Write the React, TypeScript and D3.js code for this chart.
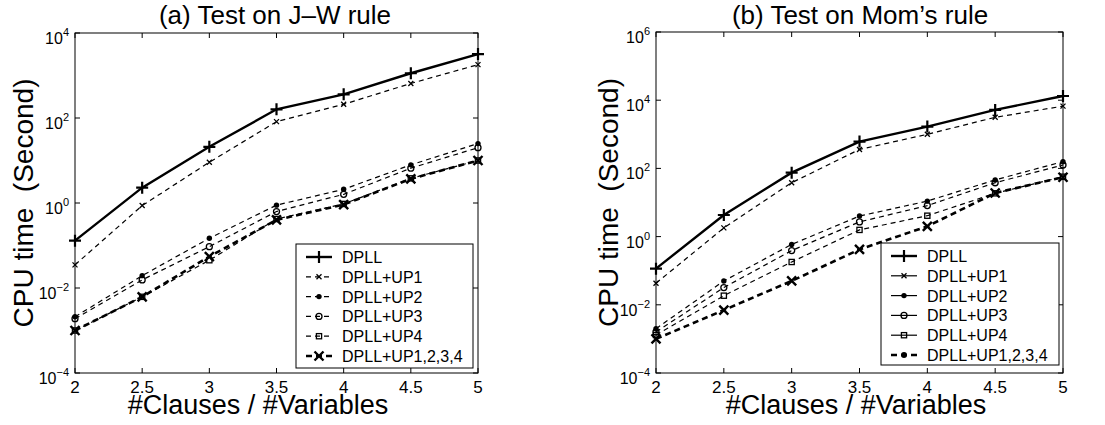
import { useRef, useEffect } from 'react'
import * as d3 from 'd3'

// x values (clause / variable ratio)
const ratios = [2, 2.5, 3, 3.5, 4, 4.5, 5]

// (a) J-W rule, CPU seconds
const jwDpll = [0.13, 2.3, 21, 160, 360, 1130, 3200]
const jwUp1 = [0.035, 0.87, 9.1, 82, 210, 650, 1800]
const jwUp2 = [0.0021, 0.0195, 0.148, 0.89, 2.1, 7.9, 25]
const jwUp3 = [0.0019, 0.0155, 0.094, 0.63, 1.6, 6.6, 20]
const jwUp4 = [0.001, 0.0062, 0.045, 0.42, 0.95, 3.8, 10]
const jwUpAll = [0.001, 0.0062, 0.055, 0.4, 0.92, 3.7, 10]

// (b) Mom's rule, CPU seconds
const momDpll = [0.115, 4.3, 75, 610, 1680, 5200, 13300]
const momUp1 = [0.043, 1.8, 38, 360, 1000, 3150, 6700]
const momUp2 = [0.002, 0.05, 0.59, 4, 11, 46, 158]
const momUp3 = [0.0016, 0.032, 0.39, 2.7, 8.1, 38, 126]
const momUp4 = [0.0013, 0.0185, 0.18, 1.57, 4.1, 18.6, 57]
const momUpAll = [0.001, 0.007, 0.05, 0.42, 2.0, 19, 55]

const seriesNames = ['DPLL', 'DPLL+UP1', 'DPLL+UP2', 'DPLL+UP3', 'DPLL+UP4', 'DPLL+UP1,2,3,4']
const xTicks = [2, 2.5, 3, 3.5, 4, 4.5, 5]
const jwExps = [-4, -2, 0, 2, 4]
const momExps = [-4, -2, 0, 2, 4, 6]

const FONT = 'Liberation Sans, Arial, Helvetica, sans-serif'

// line styles per series: [width, dash]
const styles = [
  { w: 2.4, dash: null, marker: 'plus' },
  { w: 1.2, dash: '5,4', marker: 'xs' },
  { w: 1.2, dash: '5,4', marker: 'dot' },
  { w: 1.2, dash: '5,4', marker: 'circle' },
  { w: 1.2, dash: '5,4', marker: 'square' },
  { w: 2.6, dash: '6,4', marker: 'xl' },
]

function drawMarker(g, kind, x, y) {
  if (kind === 'plus') {
    g.append('path').attr('d', `M${x - 6},${y}H${x + 6}M${x},${y - 6}V${y + 6}`)
      .attr('stroke', '#000').attr('stroke-width', 2.2)
  } else if (kind === 'xs') {
    g.append('path').attr('d', `M${x - 2.5},${y - 2.5}L${x + 2.5},${y + 2.5}M${x - 2.5},${y + 2.5}L${x + 2.5},${y - 2.5}`)
      .attr('stroke', '#000').attr('stroke-width', 1.3)
  } else if (kind === 'xl') {
    g.append('path').attr('d', `M${x - 4.5},${y - 4.5}L${x + 4.5},${y + 4.5}M${x - 4.5},${y + 4.5}L${x + 4.5},${y - 4.5}`)
      .attr('stroke', '#000').attr('stroke-width', 2.4)
  } else if (kind === 'dot') {
    g.append('circle').attr('cx', x).attr('cy', y).attr('r', 2.7).attr('fill', '#000')
  } else if (kind === 'bigdot') {
    g.append('circle').attr('cx', x).attr('cy', y).attr('r', 3).attr('fill', '#000')
  } else if (kind === 'circle') {
    g.append('circle').attr('cx', x).attr('cy', y).attr('r', 3).attr('fill', 'none')
      .attr('stroke', '#000').attr('stroke-width', 1.3)
  } else if (kind === 'square') {
    g.append('rect').attr('x', x - 2.6).attr('y', y - 2.6).attr('width', 5.2).attr('height', 5.2)
      .attr('fill', 'none').attr('stroke', '#000').attr('stroke-width', 1.3)
  }
}

const panels = [
  {
    title: '(a) Test on J\u2013W rule', titleX: 275,
    x0: 75, x1: 478, y0: 33, y1: 373,
    exps: jwExps, yLabelX: 33, xLabelX: 258,
    data: [jwDpll, jwUp1, jwUp2, jwUp3, jwUp4, jwUpAll],
    legend: { x0: 296, y0: 244, x1: 473, y1: 368 },
    legendSolid: false,
  },
  {
    title: '(b) Test on Mom\u2019s rule', titleX: 860,
    x0: 656, x1: 1063, y0: 32, y1: 373,
    exps: momExps, yLabelX: 618, xLabelX: 856,
    data: [momDpll, momUp1, momUp2, momUp3, momUp4, momUpAll],
    legend: { x0: 881, y0: 243, x1: 1059, y1: 365 },
    legendSolid: true,
  },
]

export default function App() {
  const svgRef = useRef(null)

  useEffect(() => {
    const svg = d3.select(svgRef.current)
    svg.selectAll('*').remove()

    panels.forEach((p) => {
      const g = svg.append('g')
      const x = d3.scaleLinear().domain([2, 5]).range([p.x0, p.x1])
      const y = d3.scaleLog()
        .domain([Math.pow(10, p.exps[0]), Math.pow(10, p.exps[p.exps.length - 1])])
        .range([p.y1, p.y0])

      // series lines
      p.data.forEach((vals, i) => {
        const st = styles[i]
        const line = d3.line().x((d, j) => x(ratios[j])).y(d => y(d))
        g.append('path')
          .datum(vals)
          .attr('d', line)
          .attr('fill', 'none')
          .attr('stroke', '#000')
          .attr('stroke-width', st.w)
          .attr('stroke-dasharray', st.dash)
        vals.forEach((v, j) => drawMarker(g, st.marker, x(ratios[j]), y(v)))
      })

      // frame
      g.append('rect')
        .attr('x', p.x0).attr('y', p.y0)
        .attr('width', p.x1 - p.x0).attr('height', p.y1 - p.y0)
        .attr('fill', 'none').attr('stroke', '#000').attr('stroke-width', 1)

      // x ticks
      xTicks.forEach(t => {
        const xx = x(t)
        g.append('line').attr('x1', xx).attr('x2', xx).attr('y1', p.y1).attr('y2', p.y1 - 5)
          .attr('stroke', '#000')
        g.append('line').attr('x1', xx).attr('x2', xx).attr('y1', p.y0).attr('y2', p.y0 + 5)
          .attr('stroke', '#000')
        g.append('text')
          .attr('x', xx).attr('y', p.y1 + 20)
          .attr('text-anchor', 'middle')
          .attr('font-family', FONT).attr('font-size', 17)
          .text(String(t))
      })

      // y ticks
      p.exps.forEach(e => {
        const yy = y(Math.pow(10, e))
        g.append('line').attr('x1', p.x0).attr('x2', p.x0 + 5).attr('y1', yy).attr('y2', yy)
          .attr('stroke', '#000')
        g.append('line').attr('x1', p.x1).attr('x2', p.x1 - 5).attr('y1', yy).attr('y2', yy)
          .attr('stroke', '#000')
        const t = g.append('text')
          .attr('x', p.x0 - 6).attr('y', yy + 11)
          .attr('text-anchor', 'end')
          .attr('font-family', FONT).attr('font-size', 16)
        t.append('tspan').text('10')
        t.append('tspan').attr('dy', -8).attr('font-size', 11)
          .text(e < 0 ? '\u2212' + Math.abs(e) : String(e))
      })

      // title
      g.append('text')
        .attr('x', p.titleX).attr('y', 24)
        .attr('text-anchor', 'middle')
        .attr('font-family', FONT).attr('font-size', 26)
        .text(p.title)

      // axis labels
      g.append('text')
        .attr('x', p.xLabelX).attr('y', 414)
        .attr('text-anchor', 'middle')
        .attr('font-family', FONT).attr('font-size', 27)
        .text('#Clauses / #Variables')

      g.append('text')
        .attr('transform', `translate(${p.yLabelX},${(p.y0 + p.y1) / 2}) rotate(-90)`)
        .attr('text-anchor', 'middle')
        .attr('font-family', FONT).attr('font-size', 28)
        .attr('xml:space', 'preserve')
        .style('white-space', 'pre')
        .text('CPU time  (Second)')

      // legend
      const L = p.legend
      g.append('rect')
        .attr('x', L.x0).attr('y', L.y0)
        .attr('width', L.x1 - L.x0).attr('height', L.y1 - L.y0)
        .attr('fill', '#fff').attr('stroke', '#000').attr('stroke-width', 1)
      seriesNames.forEach((name, i) => {
        const st = styles[i]
        const ry = L.y0 + 13 + i * 19.8
        const lx0 = L.x0 + 10
        const lx1 = L.x0 + 36
        const solid = p.legendSolid && i > 0 && i < 5
        g.append('line')
          .attr('x1', lx0).attr('x2', lx1).attr('y1', ry).attr('y2', ry)
          .attr('stroke', '#000').attr('stroke-width', st.w)
          .attr('stroke-dasharray', solid ? null : st.dash)
        const mk = p.legendSolid && i === 5 ? 'bigdot' : st.marker
        drawMarker(g, mk, (lx0 + lx1) / 2, ry)
        g.append('text')
          .attr('x', L.x0 + 46).attr('y', ry + 6)
          .attr('font-family', FONT).attr('font-size', 16)
          .text(name)
      })
    })
  }, [])

  return (
    <div style={{ position: 'absolute', left: 0, top: 0 }}>
      <svg ref={svgRef} width={1105} height={425} style={{ display: 'block', background: '#fff' }} />
    </div>
  )
}
